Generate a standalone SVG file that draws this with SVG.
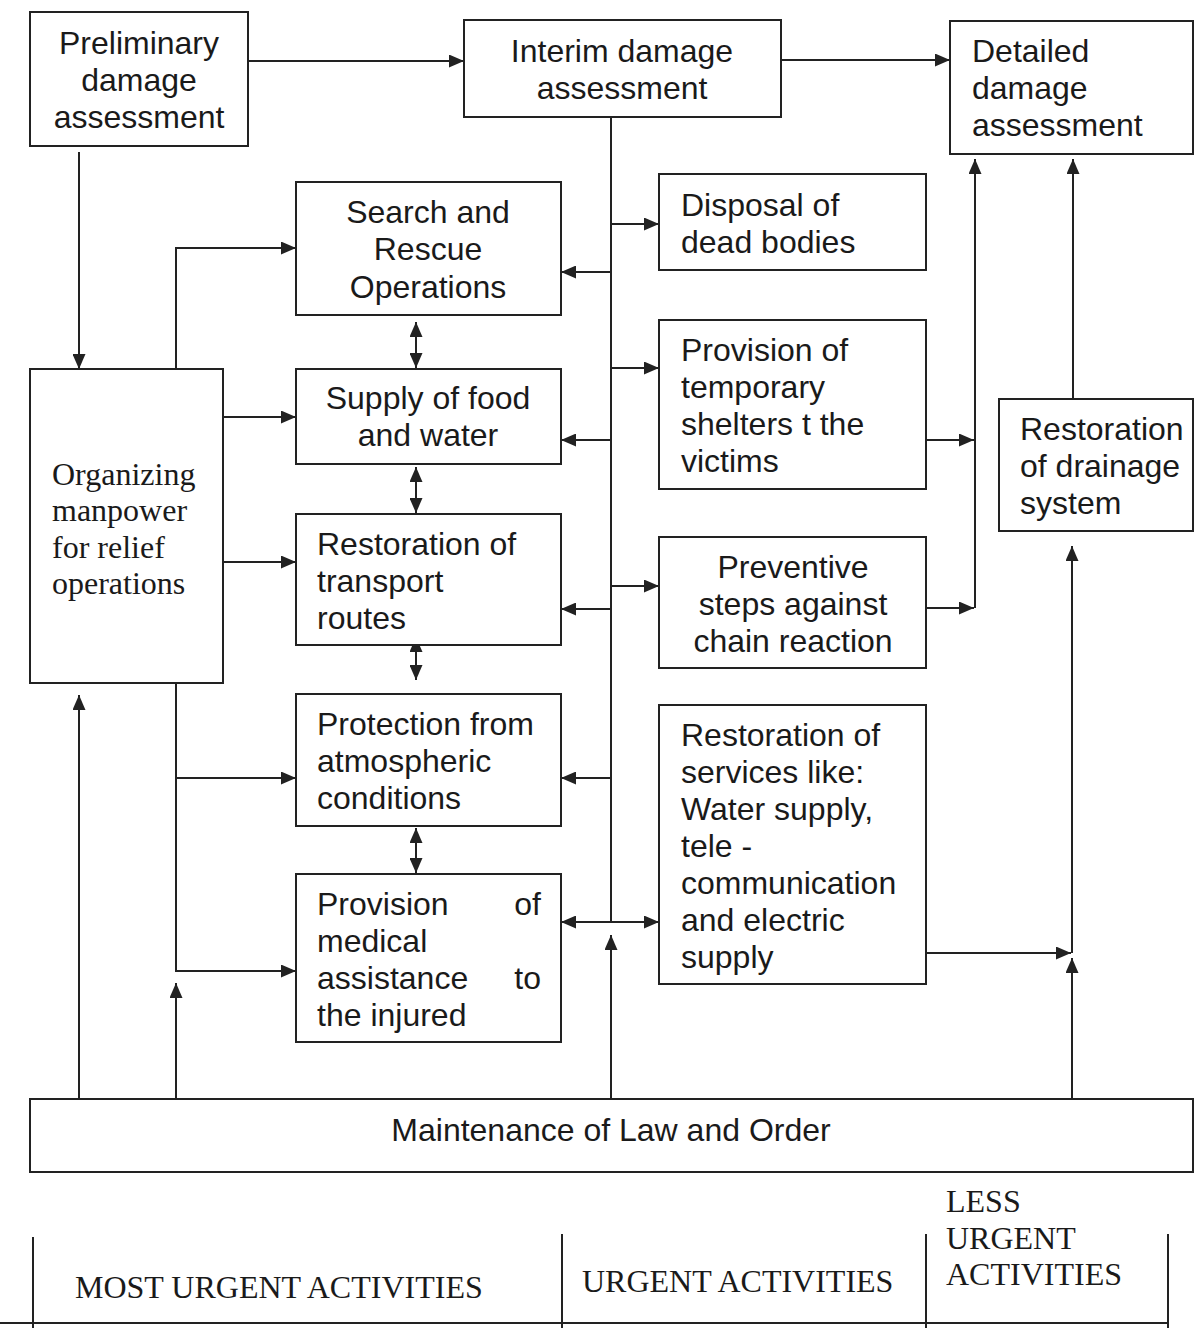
<svg xmlns="http://www.w3.org/2000/svg" width="1195" height="1328" viewBox="0 0 1195 1328">
  <style>
    .box { fill: #ffffff; stroke: #222222; stroke-width: 2; }
    .t { font-family: "Liberation Sans", Arial, sans-serif; font-size: 32px; fill: #1a1a1a; }
    .s { font-family: "Liberation Serif", "Times New Roman", serif; font-size: 32px; fill: #1a1a1a; }
    .c { text-anchor: middle; }
    .e { text-anchor: end; }
    .ln { fill: none; stroke: #222222; stroke-width: 2; }
    .ar { marker-end: url(#head); }
    .dbl { marker-start: url(#head); marker-end: url(#head); }
  </style>
  <defs>
    <marker id="head" viewBox="0 0 15 13" refX="15" refY="6.5" markerWidth="15" markerHeight="13" markerUnits="userSpaceOnUse" orient="auto-start-reverse">
      <path d="M0,0 L15,6.5 L0,13 z" fill="#222222"/>
    </marker>
  </defs>
  <rect width="1195" height="1328" fill="#ffffff"/>

  <!-- connectors -->
  <g id="connectors">
    <path class="ln ar" d="M248,61 H464"/>
    <path class="ln ar" d="M781,60 H950"/>
    <path class="ln ar" d="M79,152 V369"/>
    <path class="ln ar" d="M176,369 V248 H296"/>
    <path class="ln ar" d="M223,417 H296"/>
    <path class="ln ar" d="M223,562 H296"/>
    <path class="ln ar" d="M176,683 V971 H296"/>
    <path class="ln ar" d="M176,778 H296"/>
    <path class="ln ar" d="M79,1099 V695"/>
    <path class="ln ar" d="M176,1099 V983"/>
    <path class="ln ar" d="M611,1099 V935"/>
    <path class="ln ar" d="M1072,1099 V958"/>
    <path class="ln ar" d="M926,953 H1071"/>
    <path class="ln ar" d="M1072,953 V546"/>
    <path class="ln ar" d="M1073,399 V159"/>
    <path class="ln ar" d="M975,608 V159"/>
    <path class="ln ar" d="M926,440 H974"/>
    <path class="ln ar" d="M926,608 H974"/>
    <!-- central distribution line from interim assessment -->
    <path class="ln" d="M611,108 V922"/>
    <path class="ln ar" d="M611,224 H659"/>
    <path class="ln ar" d="M611,272 H561"/>
    <path class="ln ar" d="M611,368 H659"/>
    <path class="ln ar" d="M611,440 H561"/>
    <path class="ln ar" d="M611,586 H659"/>
    <path class="ln ar" d="M611,609 H561"/>
    <path class="ln ar" d="M611,778 H561"/>
    <path class="ln ar" d="M611,922 H561"/>
    <path class="ln ar" d="M611,922 H659"/>
    <!-- two-way links between the left column boxes -->
    <path class="ln dbl" d="M416,322 V368"/>
    <path class="ln dbl" d="M416,467 V513"/>
    <path class="ln dbl" d="M416,637 V680"/>
    <path class="ln dbl" d="M416,828 V873"/>
  </g>

  <g id="preliminary">
    <rect class="box" x="30" y="12" width="218" height="134"/>
    <text class="t c" x="139" y="54">Preliminary</text>
    <text class="t c" x="139" y="91">damage</text>
    <text class="t c" x="139" y="128">assessment</text>
  </g>
  <g id="interim">
    <rect class="box" x="464" y="20" width="317" height="97"/>
    <text class="t c" x="622" y="62">Interim damage</text>
    <text class="t c" x="622" y="99">assessment</text>
  </g>
  <g id="detailed">
    <rect class="box" x="950" y="21" width="243" height="133"/>
    <text class="t" x="972" y="62">Detailed</text>
    <text class="t" x="972" y="99">damage</text>
    <text class="t" x="972" y="136">assessment</text>
  </g>
  <g id="search">
    <rect class="box" x="296" y="182" width="265" height="133"/>
    <text class="t c" x="428" y="223">Search and</text>
    <text class="t c" x="428" y="260">Rescue</text>
    <text class="t c" x="428" y="298">Operations</text>
  </g>
  <g id="disposal">
    <rect class="box" x="659" y="174" width="267" height="96"/>
    <text class="t" x="681" y="216">Disposal of</text>
    <text class="t" x="681" y="253">dead bodies</text>
  </g>
  <g id="food">
    <rect class="box" x="296" y="369" width="265" height="95"/>
    <text class="t c" x="428" y="409">Supply of food</text>
    <text class="t c" x="428" y="446">and water</text>
  </g>
  <g id="shelters">
    <rect class="box" x="659" y="320" width="267" height="169"/>
    <text class="t" x="681" y="361">Provision of</text>
    <text class="t" x="681" y="398">temporary</text>
    <text class="t" x="681" y="435">shelters t the</text>
    <text class="t" x="681" y="472">victims</text>
  </g>
  <g id="drainage">
    <rect class="box" x="999" y="399" width="194" height="132"/>
    <text class="t" x="1020" y="440">Restoration</text>
    <text class="t" x="1020" y="477">of drainage</text>
    <text class="t" x="1020" y="514">system</text>
  </g>
  <g id="manpower">
    <rect class="box" x="30" y="369" width="193" height="314"/>
    <text class="s" x="52" y="485">Organizing</text>
    <text class="s" x="52" y="521">manpower</text>
    <text class="s" x="52" y="558">for relief</text>
    <text class="s" x="52" y="594">operations</text>
  </g>
  <g id="transport">
    <rect class="box" x="296" y="514" width="265" height="131"/>
    <text class="t" x="317" y="555">Restoration of</text>
    <text class="t" x="317" y="592">transport</text>
    <text class="t" x="317" y="629">routes</text>
  </g>
  <g id="preventive">
    <rect class="box" x="659" y="537" width="267" height="131"/>
    <text class="t c" x="793" y="578">Preventive</text>
    <text class="t c" x="793" y="615">steps against</text>
    <text class="t c" x="793" y="652">chain reaction</text>
  </g>
  <g id="protection">
    <rect class="box" x="296" y="694" width="265" height="132"/>
    <text class="t" x="317" y="735">Protection from</text>
    <text class="t" x="317" y="772">atmospheric</text>
    <text class="t" x="317" y="809">conditions</text>
  </g>
  <g id="services">
    <rect class="box" x="659" y="705" width="267" height="279"/>
    <text class="t" x="681" y="746">Restoration of</text>
    <text class="t" x="681" y="783">services like:</text>
    <text class="t" x="681" y="820">Water supply,</text>
    <text class="t" x="681" y="857">tele -</text>
    <text class="t" x="681" y="894">communication</text>
    <text class="t" x="681" y="931">and electric</text>
    <text class="t" x="681" y="968">supply</text>
  </g>
  <g id="medical">
    <rect class="box" x="296" y="874" width="265" height="168"/>
    <text class="t" x="317" y="915">Provision</text>
    <text class="t e" x="541" y="915">of</text>
    <text class="t" x="317" y="952">medical</text>
    <text class="t" x="317" y="989">assistance</text>
    <text class="t e" x="541" y="989">to</text>
    <text class="t" x="317" y="1026">the injured</text>
  </g>
  <g id="law-order">
    <rect class="box" x="30" y="1099" width="1163" height="73"/>
    <text class="t c" x="611" y="1141">Maintenance of Law and Order</text>
  </g>

  <!-- urgency scale beneath the chart -->
  <g id="urgency-scale">
    <path class="ln" d="M33,1237 V1328 M562,1234 V1328 M926,1234 V1328 M1168,1234 V1328 M0,1323 H1168"/>
    <text class="s" x="75" y="1298">MOST URGENT ACTIVITIES</text>
    <text class="s" x="582" y="1292">URGENT ACTIVITIES</text>
    <text class="s" x="946" y="1212">LESS</text>
    <text class="s" x="946" y="1249">URGENT</text>
    <text class="s" x="946" y="1285">ACTIVITIES</text>
  </g>
</svg>
